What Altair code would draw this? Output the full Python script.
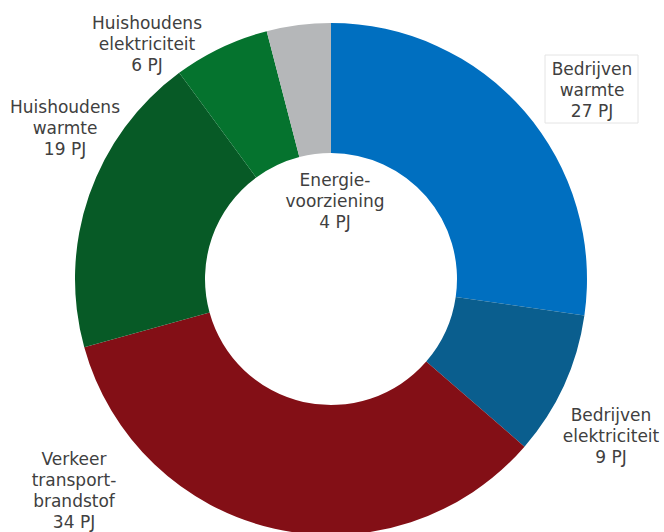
import altair as alt
import pandas as pd

categories = ["Bedrijven warmte", "Bedrijven elektriciteit", "Verkeer transport-brandstof",
              "Huishoudens warmte", "Huishoudens elektriciteit", "Energievoorziening"]
values = [27, 9, 34, 19, 6, 4]
label_lines = [["Bedrijven", "warmte"], ["Bedrijven", "elektriciteit"],
               ["Verkeer", "transport-", "brandstof"], ["Huishoudens", "warmte"],
               ["Huishoudens", "elektriciteit"], ["Energie-", "voorziening"]]
colors = ["#006fc0", "#0a5e8e", "#830f16", "#075a26", "#05732e", "#b5b7b9"]

df = pd.DataFrame({
    "cat": categories,
    "value": values,
    "order": list(range(len(categories))),
    "label": [l + [f"{v} PJ"] for l, v in zip(label_lines, values)],
})

CX, CY = 331, 279

arcs = alt.Chart(df).mark_arc(outerRadius=256, innerRadius=126, stroke=None).encode(
    theta=alt.Theta("value:Q", stack=True, scale=alt.Scale(domain=[0, sum(values)], range=[0, 6.283185307])),
    order=alt.Order("order:Q"),
    color=alt.Color("cat:N", scale=alt.Scale(domain=categories, range=colors), legend=None),
    x=alt.value(CX), y=alt.value(CY),
)

box = alt.Chart(df).mark_rect(fill="white", stroke="#e4e4e4", strokeWidth=1).encode(
    x=alt.value(545), x2=alt.value(638), y=alt.value(55), y2=alt.value(123)
).transform_filter(alt.datum.cat == "Bedrijven warmte")

label_pos = {
    "Bedrijven warmte": (592, 70),
    "Bedrijven elektriciteit": (611, 416),
    "Verkeer transport-brandstof": (74, 460),
    "Huishoudens warmte": (65, 108),
    "Huishoudens elektriciteit": (147, 24),
    "Energievoorziening": (335, 181),
}

texts = []
for cat, (lx, ly) in label_pos.items():
    texts.append(
        alt.Chart(df).mark_text(font="DejaVu Sans", fontSize=17, lineHeight=21, color="#404040",
                                align="center", baseline="middle").encode(
            x=alt.value(lx), y=alt.value(ly), text="label"
        ).transform_filter(alt.datum.cat == cat)
    )

chart = alt.layer(arcs, box, *texts).properties(
    width=664, height=532, padding=0, autosize=alt.AutoSizeParams(type="none")
).configure_view(stroke=None)

chart.save("out.html", embed_options={"renderer": "svg", "actions": False})
